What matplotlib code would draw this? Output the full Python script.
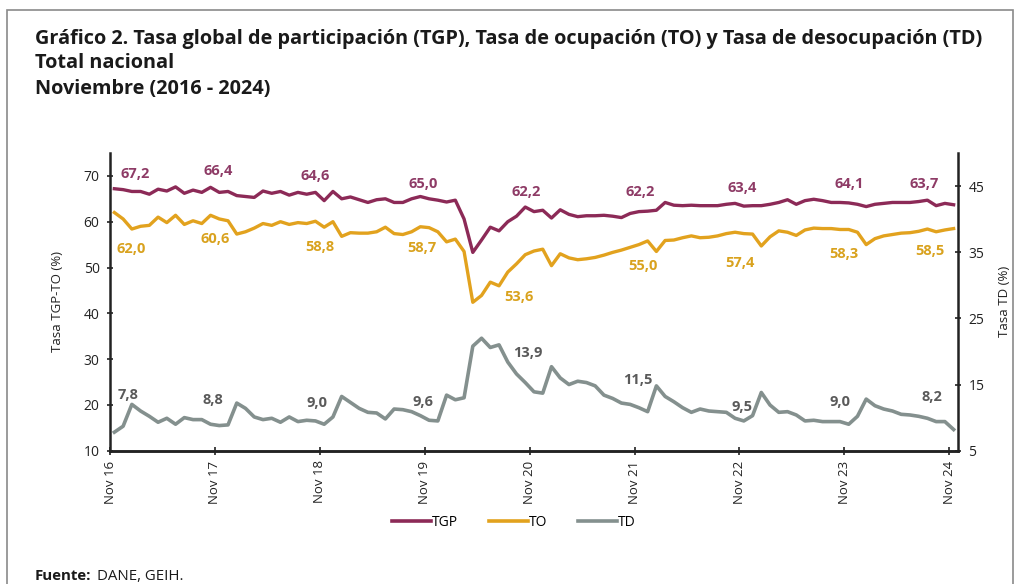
"""
Gráfico 2 - TGP, TO y TD, total nacional, noviembre 2016 - noviembre 2024
"""

import numpy as np
import matplotlib
matplotlib.use('Agg')
import matplotlib.pyplot as plt
from matplotlib.patches import Rectangle
from matplotlib.lines import Line2D

plt.rcParams['font.family'] = ['Open Sans', 'DejaVu Sans']

# 数据：月度序列，2016-11 至 2024-11（97 个点）
tgp = [67.2, 67.0, 66.6, 66.6, 66.0, 67.1, 66.7, 67.6, 66.2, 66.9, 66.4, 67.5,
       66.4, 66.6, 65.7, 65.5, 65.3, 66.7, 66.2, 66.6, 65.8, 66.4, 66.0, 66.4,
       64.6, 66.6, 65.0, 65.4, 64.8, 64.2, 64.8, 65.0, 64.2, 64.2, 65.0, 65.5,
       65.0, 64.7, 64.3, 64.7, 60.6, 53.3, 56.0, 58.8, 58.0, 60.0, 61.2, 63.2,
       62.2, 62.5, 60.8, 62.6, 61.6, 61.1, 61.3, 61.3, 61.4, 61.2, 60.9, 61.8,
       62.2, 62.3, 62.5, 64.2, 63.6, 63.5, 63.6, 63.5, 63.5, 63.5, 63.8, 64.0,
       63.4, 63.5, 63.5, 63.8, 64.2, 64.8, 63.8, 64.6, 64.9, 64.6, 64.2, 64.2,
       64.1, 63.8, 63.3, 63.8, 64.0, 64.2, 64.2, 64.2, 64.4, 64.7, 63.5, 64.0,
       63.7]
to = [62.0, 60.6, 58.4, 59.0, 59.2, 61.0, 59.8, 61.4, 59.4, 60.2, 59.6, 61.4,
      60.6, 60.2, 57.3, 57.8, 58.6, 59.6, 59.2, 60.0, 59.4, 59.8, 59.6, 60.1,
      58.8, 60.0, 56.8, 57.6, 57.5, 57.5, 57.8, 58.8, 57.4, 57.2, 57.8, 58.9,
      58.7, 57.8, 55.6, 56.2, 53.5, 42.4, 43.9, 46.8, 46.0, 49.0, 50.8, 52.8,
      53.6, 54.0, 50.4, 53.0, 52.1, 51.7, 51.9, 52.2, 52.7, 53.3, 53.8, 54.4,
      55.0, 55.8, 53.5, 55.9, 56.0, 56.5, 56.9, 56.5, 56.6, 56.9, 57.4, 57.7,
      57.4, 57.3, 54.7, 56.7, 58.0, 57.7, 57.0, 58.2, 58.6, 58.5, 58.5, 58.3,
      58.3, 57.7, 55.0, 56.3, 56.9, 57.2, 57.5, 57.6, 57.9, 58.4, 57.8, 58.2,
      58.5]
td = [7.8, 8.7, 12.0, 11.0, 10.2, 9.3, 9.9, 9.0, 10.0, 9.7, 9.7, 9.0,
      8.8, 8.9, 12.2, 11.4, 10.1, 9.7, 9.9, 9.3, 10.1, 9.4, 9.6, 9.5,
      9.0, 10.1, 13.2, 12.3, 11.4, 10.8, 10.7, 9.8, 11.3, 11.2, 10.9, 10.3,
      9.6, 9.5, 13.4, 12.7, 13.0, 20.8, 22.0, 20.6, 21.0, 18.4, 16.6, 15.3,
      13.9, 13.7, 17.7, 16.0, 15.0, 15.5, 15.3, 14.8, 13.4, 12.9, 12.2, 12.0,
      11.5, 10.9, 14.8, 13.2, 12.4, 11.5, 10.8, 11.3, 11.0, 10.9, 10.8, 9.9,
      9.5, 10.3, 13.8, 11.9, 10.8, 10.9, 10.4, 9.5, 9.6, 9.4, 9.4, 9.4,
      9.0, 10.2, 12.8, 11.8, 11.3, 11.0, 10.5, 10.4, 10.2, 9.9, 9.4, 9.4,
      8.2]

year_labels = ['Nov 16', 'Nov 17', 'Nov 18', 'Nov 19', 'Nov 20',
               'Nov 21', 'Nov 22', 'Nov 23', 'Nov 24']

# 标注：每年 11 月的数值
tgp_nov = [67.2, 66.4, 64.6, 65.0, 62.2, 62.2, 63.4, 64.1, 63.7]
to_nov = [62.0, 60.6, 58.8, 58.7, 53.6, 55.0, 57.4, 58.3, 58.5]
td_nov = [7.8, 8.8, 9.0, 9.6, 13.9, 11.5, 9.5, 9.0, 8.2]

# 颜色
c_tgp, c_to, c_td = '#8C2A57', '#E2A21E', '#84908E'
c_tgp_lbl, c_to_lbl, c_td_lbl = '#8E3B66', '#D9A21E', '#5A5A5A'
c_text = '#1A1A1A'

fig = plt.figure(figsize=(10.2, 5.84), dpi=100)
fig.patch.set_facecolor('white')

# 外框
fig.patches.append(Rectangle((7 / 1020, -0.05), 1006 / 1020, 1 - 10 / 584 + 0.05,
                             transform=fig.transFigure, fill=False,
                             edgecolor='#8A8A8A', linewidth=1.2))

# 标题
title_lines = ['Gráfico 2. Tasa global de participación (TGP), Tasa de ocupación (TO) y Tasa de desocupación (TD)',
               'Total nacional',
               'Noviembre (2016 - 2024)']
for line, ypix in zip(title_lines, [39, 63, 89]):
    fig.text(35 / 1020, 1 - ypix / 584, line, fontsize=14.3, fontweight='bold',
             va='center', ha='left', color=c_text)

ax = fig.add_axes([110 / 1020, 1 - 450.7 / 584, 848 / 1020, 297.7 / 584])
ax2 = ax.twinx()

x = np.arange(len(tgp)) + 0.5
ax.plot(x, tgp, color=c_tgp, linewidth=2.4, solid_joinstyle='round')
ax.plot(x, to, color=c_to, linewidth=2.4, solid_joinstyle='round')
ax2.plot(x, td, color=c_td, linewidth=2.6, solid_joinstyle='round')

ax.set_xlim(0, len(tgp))
ax.set_ylim(10, 75)
ax2.set_ylim(5, 50)
ax.set_yticks([10, 20, 30, 40, 50, 60, 70])
ax2.set_yticks([5, 15, 25, 35, 45])
ax.set_xticks(np.arange(0, len(tgp), 12))
ax.set_xticklabels(year_labels, rotation=90, fontsize=9.5)

for a in (ax, ax2):
    a.spines['top'].set_visible(False)
    for s in ('left', 'right', 'bottom'):
        a.spines[s].set_color('#222222')
        a.spines[s].set_linewidth(1.8)
    a.tick_params(axis='y', labelsize=10, colors='#222222', length=5,
                  width=1.2, direction='inout', pad=5)
ax.spines['right'].set_visible(False)
ax2.spines['left'].set_visible(False)
ax.tick_params(axis='x', length=6, width=1.2, direction='inout',
               colors='#222222', pad=4)

ax.set_ylabel('Tasa TGP-TO (%)', fontsize=9.5, color='#222222', labelpad=14)
ax2.set_ylabel('Tasa TD (%)', fontsize=9.5, color='#222222', labelpad=10)

# 数据标签（像素偏移）
tgp_off = [(21, 15), (-1, 21), (-9, 25), (-6, 15), (-8, 20), (1, 20), (-2, 18), (0, 19), (-29, 21)]
to_off = [(17, -36), (-4, -20), (-4, -20), (-7, -20), (-15, -46), (4, -21), (-4, -29), (-5, -25), (-24, -22)]
td_off = [(14, 37), (-6, 26), (-7, 21), (-6, 18), (-6, 39), (-1, 28), (-2, 14), (-9, 22), (-22, 33)]

lbl_kw = dict(textcoords='offset pixels', ha='center', va='center',
              fontsize=10.5, fontweight='bold')
for k in range(len(year_labels)):
    xk = 12 * k + 0.5
    ax.annotate(f'{tgp_nov[k]:.1f}'.replace('.', ','), (xk, tgp_nov[k]),
                xytext=tgp_off[k], color=c_tgp_lbl, **lbl_kw)
    ax.annotate(f'{to_nov[k]:.1f}'.replace('.', ','), (xk, to_nov[k]),
                xytext=to_off[k], color=c_to_lbl, **lbl_kw)
    ax2.annotate(f'{td_nov[k]:.1f}'.replace('.', ','), (xk, td_nov[k]),
                 xytext=td_off[k], color=c_td_lbl, **lbl_kw)

# 图例
handles = [Line2D([], [], color=c_tgp, linewidth=2.6),
           Line2D([], [], color=c_to, linewidth=2.6),
           Line2D([], [], color=c_td, linewidth=2.6)]
fig.legend(handles, ['TGP', 'TO', 'TD'], loc='center',
           bbox_to_anchor=(514 / 1020, 1 - 522 / 584), ncol=3, frameon=False,
           fontsize=10, handlelength=2.8, handletextpad=0.1, columnspacing=2.2)

# 资料来源
fig.text(35 / 1020, 1 - 576 / 584, 'Fuente:', fontsize=10.8, fontweight='bold',
         va='center', ha='left', color=c_text)
fig.text(97 / 1020, 1 - 576 / 584, 'DANE, GEIH.', fontsize=10.8,
         va='center', ha='left', color=c_text)

plt.savefig('out.png', dpi=100)
